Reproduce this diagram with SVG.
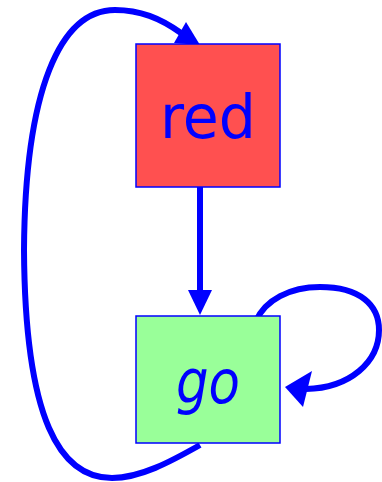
<svg xmlns="http://www.w3.org/2000/svg" width="382" height="482" viewBox="0 0 382 482">
  <style>
    .edge { fill: none; stroke: #0000ff; stroke-width: 6; stroke-linecap: butt; }
    .head { fill: #0000ff; stroke: none; }
    .box { stroke: #0000ff; stroke-width: 1.5; }
    .label { fill: #0000ff; font-family: "DejaVu Sans", "Liberation Sans", sans-serif; font-size: 60px; text-anchor: middle; }
  </style>
  <rect width="382" height="482" fill="#ffffff"/>

  <g id="connectors">
    <!-- go back to red, around the left side -->
    <path class="edge" d="M200,445 C170,462 140,478 112,478 C60,478 25,420 24,250 C25,90 60,10 115,10 C140,10 160,18 181,33"/>
    <polygon class="head" points="200,45 174,43 186,22"/>
    <!-- red down to go -->
    <line class="edge" x1="200" y1="187" x2="200" y2="293"/>
    <polygon class="head" points="200,315 188,290 212,290"/>
    <!-- go self-loop -->
    <path class="edge" d="M256,321 C265,300 290,287 320,287 C360,287 379,305 379,330 C379,362 350,388 306,389"/>
    <polygon class="head" points="285,387 312,371 303,407"/>
  </g>

  <g id="red">
    <rect class="box" x="136" y="44" width="144" height="143" fill="#ff5050"/>
    <text class="label" x="208" y="138" textLength="96" lengthAdjust="spacingAndGlyphs">red</text>
  </g>

  <g id="go">
    <rect class="box" x="136" y="316" width="144" height="127" fill="#99ff99"/>
    <text class="label" x="208" y="403" font-style="italic" textLength="64" lengthAdjust="spacingAndGlyphs">go</text>
  </g>
</svg>
